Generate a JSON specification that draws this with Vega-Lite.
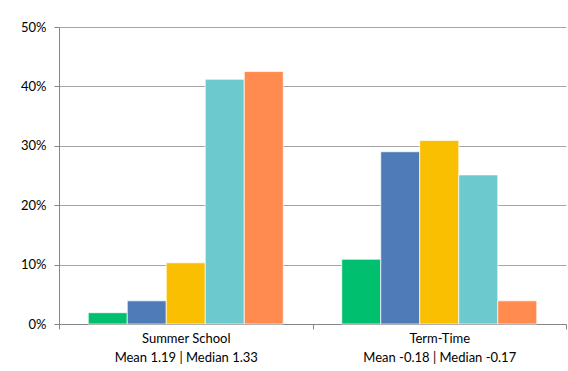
{
  "$schema": "https://vega.github.io/schema/vega-lite/v6.json",
  "width": 507,
  "height": 297,
  "autosize": {"type": "none"},
  "padding": {"left": 59, "top": 27, "right": 2, "bottom": 47},
  "background": "white",
  "data": {
    "values": [
      {"group": "Summer School\nMean 1.19 | Median 1.33", "score": "-2", "share": 0.019},
      {"group": "Summer School\nMean 1.19 | Median 1.33", "score": "-1", "share": 0.039},
      {"group": "Summer School\nMean 1.19 | Median 1.33", "score": "0", "share": 0.103},
      {"group": "Summer School\nMean 1.19 | Median 1.33", "score": "1", "share": 0.412},
      {"group": "Summer School\nMean 1.19 | Median 1.33", "score": "2", "share": 0.425},
      {"group": "Term-Time\nMean -0.18 | Median -0.17", "score": "-2", "share": 0.109},
      {"group": "Term-Time\nMean -0.18 | Median -0.17", "score": "-1", "share": 0.290},
      {"group": "Term-Time\nMean -0.18 | Median -0.17", "score": "0", "share": 0.309},
      {"group": "Term-Time\nMean -0.18 | Median -0.17", "score": "1", "share": 0.251},
      {"group": "Term-Time\nMean -0.18 | Median -0.17", "score": "2", "share": 0.039}
    ]
  },
  "mark": {"type": "bar", "stroke": "white", "strokeWidth": 0.7},
  "encoding": {
    "x": {
      "field": "group",
      "type": "nominal",
      "title": null,
      "scale": {"paddingInner": 0, "paddingOuter": 0},
      "axis": {
        "labelAngle": 0,
        "labelExpr": "split(datum.label, '\\n')",
        "labelLineHeight": 19,
        "labelFont": "Lato",
        "labelFontSize": 13,
        "labelColor": "#000000",
        "labelPadding": 3,
        "labelBaseline": "top",
        "tickBand": "extent",
        "tickSize": 5,
        "tickColor": "#868686",
        "domainColor": "#868686",
        "grid": false
      }
    },
    "xOffset": {
      "field": "score",
      "type": "nominal",
      "sort": ["-2", "-1", "0", "1", "2"],
      "scale": {"paddingInner": 0, "paddingOuter": 0.75}
    },
    "y": {
      "field": "share",
      "type": "quantitative",
      "title": null,
      "scale": {"domain": [0, 0.5], "nice": false},
      "axis": {
        "format": ".0%",
        "values": [0, 0.1, 0.2, 0.3, 0.4, 0.5],
        "labelFont": "Lato",
        "labelFontSize": 13,
        "labelColor": "#000000",
        "labelPadding": 8,
        "tickSize": 5,
        "tickColor": "#868686",
        "domainColor": "#868686",
        "gridColor": "#A6A6A6",
        "gridWidth": 1
      }
    },
    "color": {
      "field": "score",
      "type": "nominal",
      "sort": ["-2", "-1", "0", "1", "2"],
      "scale": {"range": ["#00BF6F", "#4F7CB8", "#F9BF00", "#6CC9CE", "#FF8B4F"]},
      "legend": null
    }
  },
  "config": {"view": {"stroke": null}}
}
